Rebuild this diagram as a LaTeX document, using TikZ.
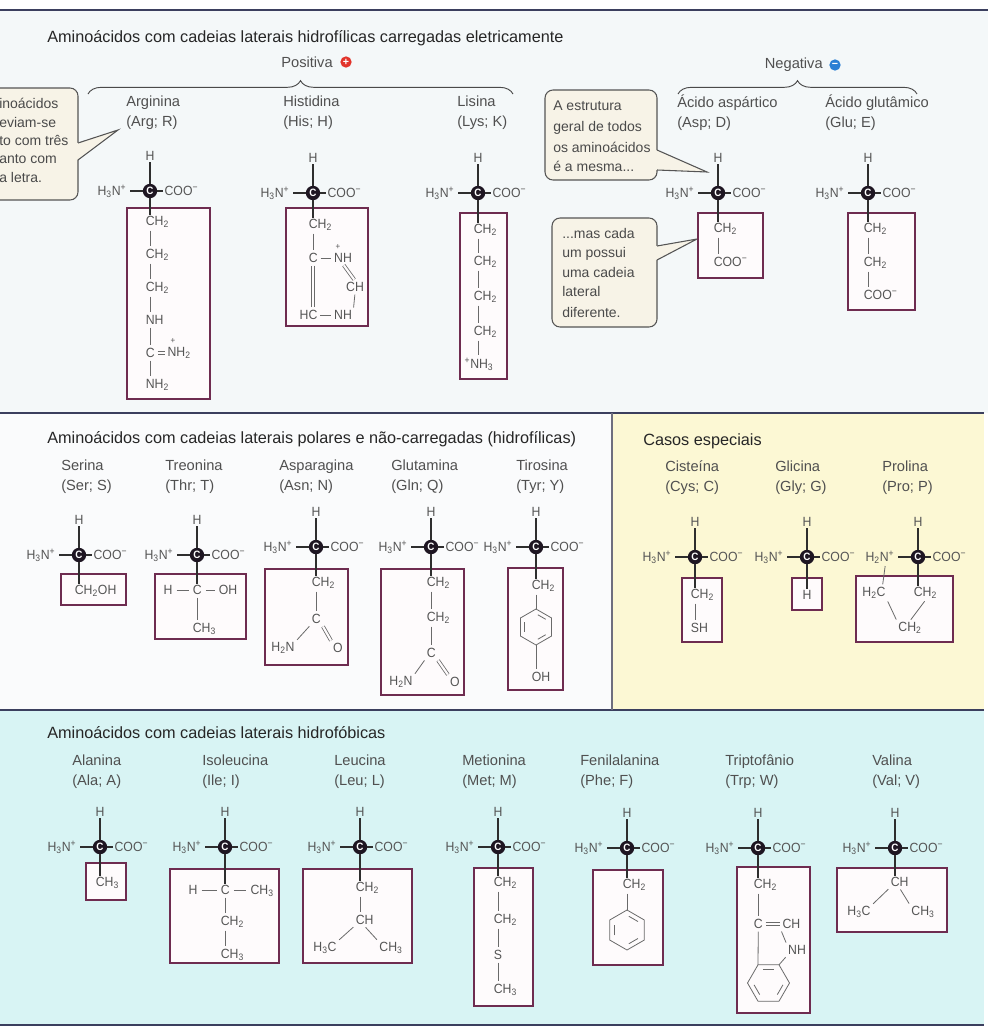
\documentclass[tikz,border=0pt]{standalone}
\usepackage{fontspec}
\setmainfont{Liberation Sans}
\newfontfamily\chemfont{Liberation Sans}[FakeStretch=0.92]
\usetikzlibrary{decorations.pathreplacing}

\definecolor{toppanel}{HTML}{F4F8F9}
\definecolor{midpanel}{HTML}{FAFBFC}
\definecolor{yelpanel}{HTML}{FCF8D4}
\definecolor{cyanpanel}{HTML}{D8F4F4}
\definecolor{rulec}{HTML}{3B3F5E}
\definecolor{vrulec}{HTML}{6E6E7E}
\definecolor{boxc}{HTML}{6E2C50}
\definecolor{boxfill}{HTML}{FEFBFC}
\definecolor{catomc}{HTML}{1E1622}
\definecolor{chemtxt}{HTML}{555555}
\definecolor{nametxt}{HTML}{505050}
\definecolor{headtxt}{HTML}{262626}
\definecolor{bondc}{HTML}{6A6A6A}
\definecolor{corec}{HTML}{2E2E2E}
\definecolor{callc}{HTML}{555555}
\definecolor{callfill}{HTML}{F7F3E7}
\definecolor{calltxt}{HTML}{4A4A4A}
\definecolor{posred}{HTML}{E2342B}
\definecolor{negblue}{HTML}{2B7FD4}
\definecolor{bracec}{HTML}{4A4A4A}

\newcommand{\lsb}[1]{\textsubscript{#1}}
\newcommand{\lsp}[1]{\textsuperscript{#1}}
\newcommand{\hthreen}{H\lsb{3}N\lsp{+}}
\newcommand{\coo}{COO\lsp{−}}

\tikzset{
  catom/.style={circle, fill=catomc, text=white, inner sep=0pt, minimum size=10.8pt, font=\chemfont\bfseries\fontsize{8}{8}\selectfont},
  chem/.style={inner sep=1pt, text=chemtxt, font=\chemfont\fontsize{10}{11}\selectfont},
  aname/.style={inner sep=0pt, text=nametxt, align=left, font=\fontsize{11}{15}\selectfont},
  head/.style={inner sep=0pt, text=headtxt, font=\fontsize{12.2}{14}\selectfont},
  callt/.style={inner sep=0pt, text=calltxt, font=\fontsize{10.5}{14}\selectfont},
  bond/.style={draw=bondc, line width=0.6pt, shorten <=1pt, shorten >=1pt},
  rbond/.style={draw=bondc, line width=0.6pt},
  ringc/.style={draw=bondc, line width=0.6pt, line join=round},
  cbond/.style={draw=corec, line width=1.1pt},
  sbox/.style={draw=boxc, line width=1.2pt, fill=boxfill},
  callout/.style={draw=callc, line width=0.8pt, fill=callfill},
  rulel/.style={draw=rulec, line width=1.1pt},
  vdiv/.style={draw=vrulec, line width=1.1pt},
  bracel/.style={decorate, decoration={brace, amplitude=10pt}, draw=bracec, line width=0.7pt},
  signc/.style={circle, inner sep=0pt, minimum size=8.5pt, text=white, font=\bfseries\fontsize{8}{8}\selectfont},
  dbl/.style={double=boxfill, double distance=1.6pt}
}

% core of an amino acid: id, axis x, y of alpha carbon, left label
\newcommand{\amino}[4]{%
  \node[catom] (#1C) at (#2,#3) {C};
  \node[chem] (#1H) at (#2,#3-35) {H};
  \node[chem, anchor=east] (#1L) at (#2-22,#3) {#4};
  \node[chem, anchor=west] (#1R) at (#2+13,#3) {\coo};
  \draw[cbond] (#1H) -- (#1C);
  \draw[cbond, shorten <=1.5pt] (#1L) -- (#1C);
  \draw[cbond] (#1C) -- (#1R);
}
% group whose first letter sits on the axis
\newcommand{\grp}[4]{\node[chem, anchor=west] (#1) at (#2-5.76,#3) {#4};}
% vertical bond from a group to the next one along the axis
\newcommand{\vb}[2]{\draw[bond] ([xshift=4.32pt]#1.south west) -- ([xshift=4.32pt]#1.south west |- #2.north);}
% hexagon: centre x, centre y, radius, start angle
\newcommand{\hexa}[4]{%
  \begin{scope}[shift={(#1,#2)}]
    \draw[ringc] (#4:#3) -- ({#4+60}:#3) -- ({#4+120}:#3) -- ({#4+180}:#3) -- ({#4+240}:#3) -- ({#4+300}:#3) -- cycle;
  \end{scope}}
% inner line of a double bond in a ring: centre x, centre y, inner radius, start angle
\newcommand{\hexd}[4]{%
  \begin{scope}[shift={(#1,#2)}]
    \draw[ringc, shorten <=1.6pt, shorten >=1.6pt] (#4:#3) -- ({#4+60}:#3);
  \end{scope}}

\begin{document}
\begin{tikzpicture}[x=0.75pt,y=-0.75pt]
\useasboundingbox (0,0) rectangle (988,1035);
\begin{scope}
\clip (0,0) rectangle (988,1035);

% ---------- panels ----------
\fill[toppanel] (0,10) rectangle (988,413);
\fill[midpanel] (0,413) rectangle (612,710);
\fill[yelpanel] (612,413) rectangle (984,710);
\fill[cyanpanel] (0,710) rectangle (984,1025);
\draw[rulel] (0,10) -- (988,10);
\draw[rulel] (0,413) -- (984,413);
\draw[rulel] (0,710) -- (984,710);
\draw[rulel] (0,1025) -- (984,1025);
\draw[vdiv] (612,413) -- (612,710);

% ---------- top section ----------
\node[head, anchor=base west] (h1) at (47,42) {Aminoácidos com cadeias laterais hidrofílicas carregadas eletricamente};
\node[aname, anchor=east] (posl) at (333,62) {Positiva};
\node[signc, fill=posred] (posi) at (346,62) {+};
\node[aname, anchor=east] (negl) at (823,65) {Negativa};
\node[signc, fill=negblue] (negi) at (835,65) {−};
\draw[bracel] (88,94) -- (513,94);
\draw[bracel] (678,94) -- (917,94);

% callout at the left edge
\draw[callout, rounded corners=6pt] (-20,88) rectangle (78,200);
\fill[callfill] (77,143) -- (118,130) -- (77,160) -- cycle;
\draw[draw=callc, line width=0.8pt] (78,143) -- (118,130) -- (78,160);
\node[callt, anchor=base west] (ca1) at (-1,108) {inoácidos};
\node[callt, anchor=base west] (ca2) at (-1,127) {eviam-se};
\node[callt, anchor=base west] (ca3) at (-1,145) {to com três};
\node[callt, anchor=base west] (ca4) at (-1,163) {anto com};
\node[callt, anchor=base west] (ca5) at (-1,182) {a letra.};

% callout "A estrutura..."
\draw[callout, rounded corners=6pt] (545,90) rectangle (657,180);
\fill[callfill] (656,150) -- (707,172) -- (656,170) -- cycle;
\draw[draw=callc, line width=0.8pt] (657,150) -- (707,172) -- (657,170);
\node[callt, anchor=base west] (cb1) at (553,110) {A estrutura};
\node[callt, anchor=base west] (cb2) at (553,131) {geral de todos};
\node[callt, anchor=base west] (cb3) at (553,152) {os aminoácidos};
\node[callt, anchor=base west] (cb4) at (553,171) {é a mesma...};

% callout "...mas cada"
\draw[callout, rounded corners=6pt] (552,218) rectangle (657,327);
\fill[callfill] (656,246) -- (697,239) -- (656,260) -- cycle;
\draw[draw=callc, line width=0.8pt] (657,246) -- (697,239) -- (657,260);
\node[callt, anchor=base west] (cc1) at (562,238) {...mas cada};
\node[callt, anchor=base west] (cc2) at (562,257) {um possui};
\node[callt, anchor=base west] (cc3) at (562,277) {uma cadeia};
\node[callt, anchor=base west] (cc4) at (562,296) {lateral};
\node[callt, anchor=base west] (cc5) at (562,317) {diferente.};

% Arginina
\node[aname, anchor=west] (argname) at (126,113) {Arginina\\(Arg; R)};
\draw[sbox] (127,208) rectangle (210,399);
\amino{arg}{150}{191}{\hthreen}
\grp{arg1}{150}{222}{CH\lsb{2}}
\grp{arg2}{150}{255}{CH\lsb{2}}
\grp{arg3}{150}{288}{CH\lsb{2}}
\grp{arg4}{150}{320}{NH}
\grp{arg5}{150}{353}{C}
\node[chem, anchor=west] (arg6) at (166,353) {NH\lsb{2}};
\node[chem, inner sep=0pt, font=\chemfont\fontsize{6.5}{6.5}\selectfont] (argp) at (173,341) {+};
\grp{arg7}{150}{385}{NH\lsb{2}}
\draw[cbond] (argC) -- (argC |- arg1.north);
\vb{arg1}{arg2}
\vb{arg2}{arg3}
\vb{arg3}{arg4}
\vb{arg4}{arg5}
\vb{arg5}{arg7}
\draw[bond, dbl] (arg5.east) -- (arg5.east -| arg6.west);

% Histidina
\node[aname, anchor=west] (hisname) at (283,113) {Histidina\\(His; H)};
\draw[sbox] (286,208) rectangle (368,326);
\amino{his}{313}{193}{\hthreen}
\grp{his1}{313}{225}{CH\lsb{2}}
\grp{his2}{313}{258}{C}
\node[chem] (his3) at (343,258) {NH};
\node[chem, inner sep=0pt, font=\chemfont\fontsize{6.5}{6.5}\selectfont] (hisp) at (338,247) {+};
\node[chem] (his4) at (355,287) {CH};
\node[chem, anchor=east] (his5) at (319,315) {HC};
\node[chem] (his6) at (343,315) {NH};
\draw[cbond] (hisC) -- (hisC |- his1.north);
\vb{his1}{his2}
\draw[bond] (his2) -- (his3);
\draw[bond, dbl] (his2.south) -- (his2.south |- his5.north);
\draw[bond, dbl] (his3.south) -- (his4.north);
\draw[bond] (his4.south) -- (his6.north east);
\draw[bond] (his5) -- (his6);

% Lisina
\node[aname, anchor=west] (lysname) at (457,113) {Lisina\\(Lys; K)};
\draw[sbox] (460,213) rectangle (507,379);
\amino{lys}{478}{193}{\hthreen}
\grp{lys1}{478}{230}{CH\lsb{2}}
\grp{lys2}{478}{262}{CH\lsb{2}}
\grp{lys3}{478}{297}{CH\lsb{2}}
\grp{lys4}{478}{332}{CH\lsb{2}}
\node[chem] (lys5) at (479,364) {\lsp{+}NH\lsb{3}};
\draw[cbond] (lysC) -- (lysC |- lys1.north);
\vb{lys1}{lys2}
\vb{lys2}{lys3}
\vb{lys3}{lys4}
\vb{lys4}{lys5}

% Acido aspartico
\node[aname, anchor=west] (aspname) at (677,113) {Ácido aspártico\\(Asp; D)};
\draw[sbox] (698,213) rectangle (763,278);
\amino{asp}{718}{193}{\hthreen}
\grp{asp1}{718}{229}{CH\lsb{2}}
\grp{asp2}{718}{262}{\coo}
\draw[cbond] (aspC) -- (aspC |- asp1.north);
\vb{asp1}{asp2}

% Acido glutamico
\node[aname, anchor=west] (gluname) at (825,113) {Ácido glutâmico\\(Glu; E)};
\draw[sbox] (848,213) rectangle (915,310);
\amino{glu}{868}{193}{\hthreen}
\grp{glu1}{868}{229}{CH\lsb{2}}
\grp{glu2}{868}{263}{CH\lsb{2}}
\grp{glu3}{868}{295}{\coo}
\draw[cbond] (gluC) -- (gluC |- glu1.north);
\vb{glu1}{glu2}
\vb{glu2}{glu3}

% ---------- middle section ----------
\node[head, anchor=base west] (h2) at (47,443) {Aminoácidos com cadeias laterais polares e não-carregadas (hidrofílicas)};

% Serina
\node[aname, anchor=west] (sername) at (61,477) {Serina\\(Ser; S)};
\draw[sbox] (61,574) rectangle (126,605);
\amino{ser}{79}{555}{\hthreen}
\grp{ser1}{79}{591}{CH\lsb{2}OH}
\draw[cbond] (serC) -- (serC |- ser1.north);

% Treonina
\node[aname, anchor=west] (thrname) at (165,477) {Treonina\\(Thr; T)};
\draw[sbox] (155,574) rectangle (246,639);
\amino{thr}{197}{555}{\hthreen}
\node[chem] (thr1) at (168,590) {H};
\grp{thr2}{197}{590}{C}
\node[chem] (thr3) at (228,590) {OH};
\grp{thr4}{197}{629}{CH\lsb{3}}
\draw[cbond] (thrC) -- (thrC |- thr2.north);
\draw[bond, shorten <=2pt, shorten >=2pt] (thr1) -- (thr2);
\draw[bond, shorten <=2pt, shorten >=2pt] (thr2) -- (thr3);
\vb{thr2}{thr4}

% Asparagina
\node[aname, anchor=west] (asnname) at (279,477) {Asparagina\\(Asn; N)};
\draw[sbox] (265,569) rectangle (348,665);
\amino{asn}{316}{547}{\hthreen}
\grp{asn1}{316}{583}{CH\lsb{2}}
\grp{asn2}{316}{619}{C}
\node[chem] (asn3) at (283,648) {H\lsb{2}N};
\node[chem] (asn4) at (338,648) {O};
\draw[cbond] (asnC) -- (asnC |- asn1.north);
\vb{asn1}{asn2}
\draw[bond] (asn2.south west) -- (asn3.north east);
\draw[bond, dbl] (asn2.south east) -- (asn4.north west);

% Glutamina
\node[aname, anchor=west] (glnname) at (391,477) {Glutamina\\(Gln; Q)};
\draw[sbox] (381,569) rectangle (464,695);
\amino{gln}{431}{547}{\hthreen}
\grp{gln1}{431}{583}{CH\lsb{2}}
\grp{gln2}{431}{618}{CH\lsb{2}}
\grp{gln3}{431}{653}{C}
\node[chem] (gln4) at (401,682) {H\lsb{2}N};
\node[chem] (gln5) at (455,682) {O};
\draw[cbond] (glnC) -- (glnC |- gln1.north);
\vb{gln1}{gln2}
\vb{gln2}{gln3}
\draw[bond] (gln3.south west) -- (gln4.north east);
\draw[bond, dbl] (gln3.south east) -- (gln5.north west);

% Tirosina
\node[aname, anchor=west] (tyrname) at (516,477) {Tirosina\\(Tyr; Y)};
\draw[sbox] (508,568) rectangle (563,690);
\amino{tyr}{536}{547}{\hthreen}
\grp{tyr1}{536}{586}{CH\lsb{2}}
\hexa{536}{627}{18}{30}
\hexd{536}{627}{13.3}{270}
\hexd{536}{627}{13.3}{30}
\hexd{536}{627}{13.3}{150}
\coordinate (tyrt) at (536,609);
\coordinate (tyrb) at (536,645);
\grp{tyr2}{536}{677}{OH}
\draw[cbond] (tyrC) -- (tyrC |- tyr1.north);
\draw[rbond, shorten <=1pt] ([xshift=4.32pt]tyr1.south west) -- (tyrt);
\draw[rbond, shorten >=1pt] (tyrb) -- ([xshift=4.32pt]tyr2.north west);

% ---------- casos especiais ----------
\node[head, anchor=base west] (h3) at (643,445) {Casos especiais};

% Cisteina
\node[aname, anchor=west] (cysname) at (665,478) {Cisteína\\(Cys; C)};
\draw[sbox] (682,578) rectangle (722,642);
\amino{cys}{695}{557}{\hthreen}
\grp{cys1}{695}{595}{CH\lsb{2}}
\grp{cys2}{695}{628}{SH}
\draw[cbond] (cysC) -- (cysC |- cys1.north);
\vb{cys1}{cys2}

% Glicina
\node[aname, anchor=west] (glyname) at (775,478) {Glicina\\(Gly; G)};
\draw[sbox] (792,578) rectangle (822,610);
\amino{gly}{807}{557}{\hthreen}
\node[chem] (gly1) at (807,595) {H};
\draw[cbond] (glyC) -- (glyC |- gly1.north);

% Prolina
\node[aname, anchor=west] (proname) at (882,478) {Prolina\\(Pro; P)};
\draw[sbox] (856,576) rectangle (953,642);
\amino{pro}{918}{557}{H\lsb{2}N\lsp{+}}
\node[chem] (pro1) at (874,593) {H\lsb{2}C};
\grp{pro2}{918}{593}{CH\lsb{2}}
\node[chem] (pro3) at (910,628) {CH\lsb{2}};
\draw[cbond] (proC) -- (proC |- pro2.north);
\draw[bond] ([xshift=-8pt]proL.south east) -- ([xshift=-3.5pt]pro1.north east);
\draw[bond] (pro1.south east) -- (pro3.north west);
\draw[bond] (pro2.south) -- (pro3.north);

% ---------- bottom section ----------
\node[head, anchor=base west] (h4) at (47,738) {Aminoácidos com cadeias laterais hidrofóbicas};

% Alanina
\node[aname, anchor=west] (alaname) at (72,772) {Alanina\\(Ala; A)};
\draw[sbox] (86,863) rectangle (126,900);
\amino{ala}{100}{847}{\hthreen}
\grp{ala1}{100}{883}{CH\lsb{3}}
\draw[cbond] (alaC) -- (alaC |- ala1.north);

% Isoleucina
\node[aname, anchor=west] (ilename) at (202,772) {Isoleucina\\(Ile; I)};
\draw[sbox] (170,869) rectangle (279,963);
\amino{ile}{225}{847}{\hthreen}
\node[chem] (ile1) at (193,890) {H};
\grp{ile2}{225}{890}{C}
\node[chem, anchor=west] (ile3) at (249,891) {CH\lsb{3}};
\grp{ile4}{225}{922}{CH\lsb{2}}
\grp{ile5}{225}{955}{CH\lsb{3}}
\draw[cbond] (ileC) -- (ileC |- ile2.north);
\draw[bond, shorten <=2pt, shorten >=2pt] (ile1) -- (ile2);
\draw[bond, shorten <=2pt, shorten >=2pt] (ile2.east) -- (ile2.east -| ile3.west);
\vb{ile2}{ile4}
\vb{ile4}{ile5}

% Leucina
\node[aname, anchor=west] (leuname) at (334,772) {Leucina\\(Leu; L)};
\draw[sbox] (303,869) rectangle (412,963);
\amino{leu}{360}{847}{\hthreen}
\grp{leu1}{360}{888}{CH\lsb{2}}
\grp{leu2}{360}{920}{CH}
\node[chem] (leu3) at (325,948) {H\lsb{3}C};
\node[chem] (leu4) at (391,948) {CH\lsb{3}};
\draw[cbond] (leuC) -- (leuC |- leu1.north);
\vb{leu1}{leu2}
\draw[bond] (leu2.south west) -- (leu3.north east);
\draw[bond] (leu2.south) -- (leu4.north west);

% Metionina
\node[aname, anchor=west] (metname) at (462,772) {Metionina\\(Met; M)};
\draw[sbox] (474,868) rectangle (533,1006);
\amino{met}{498}{847}{\hthreen}
\grp{met1}{498}{883}{CH\lsb{2}}
\grp{met2}{498}{920}{CH\lsb{2}}
\grp{met3}{498}{955}{S}
\grp{met4}{498}{990}{CH\lsb{3}}
\draw[cbond] (metC) -- (metC |- met1.north);
\vb{met1}{met2}
\vb{met2}{met3}
\vb{met3}{met4}

% Fenilalanina
\node[aname, anchor=west] (phename) at (580,772) {Fenilalanina\\(Phe; F)};
\draw[sbox] (593,870) rectangle (663,965);
\amino{phe}{627}{848}{\hthreen}
\grp{phe1}{627}{885}{CH\lsb{2}}
\hexa{627}{930}{20}{30}
\hexd{627}{930}{14.8}{270}
\hexd{627}{930}{14.8}{30}
\hexd{627}{930}{14.8}{150}
\coordinate (phet) at (627,910);
\draw[cbond] (pheC) -- (pheC |- phe1.north);
\draw[rbond, shorten <=1pt] ([xshift=4.32pt]phe1.south west) -- (phet);

% Triptofanio
\node[aname, anchor=west] (trpname) at (725,772) {Triptofânio\\(Trp; W)};
\draw[sbox] (737,867) rectangle (810,1013);
\amino{trp}{758}{848}{\hthreen}
\grp{trp1}{758}{885}{CH\lsb{2}}
\grp{trp2}{758}{924}{C}
\node[chem, anchor=west] (trp3) at (781,924) {CH};
\node[chem] (trp4) at (797,950) {NH};
\hexa{768.5}{983}{21}{0}
\hexd{768.5}{983}{15.5}{240}
\hexd{768.5}{983}{15.5}{0}
\hexd{768.5}{983}{15.5}{120}
\coordinate (trpa) at (758,964.8);
\coordinate (trpb) at (779,964.8);
\draw[cbond] (trpC) -- (trpC |- trp1.north);
\vb{trp1}{trp2}
\draw[bond, dbl] (trp2.east) -- (trp2.east -| trp3.west);
\draw[bond] (trp3.south west) -- (trp4.north west);
\draw[rbond, shorten <=1pt] (trp2.south) -- (trpa);
\draw[rbond, shorten <=1pt] (trp4.south west) -- (trpb);

% Valina
\node[aname, anchor=west] (valname) at (872,772) {Valina\\(Val; V)};
\draw[sbox] (837,868) rectangle (947,932);
\amino{val}{895}{848}{\hthreen}
\grp{val1}{895}{882}{CH}
\node[chem] (val2) at (859,912) {H\lsb{3}C};
\node[chem] (val3) at (923,912) {CH\lsb{3}};
\draw[cbond] (valC) -- (valC |- val1.north);
\draw[bond] (val1.south west) -- (val2.north east);
\draw[bond] (val1.south) -- (val3.north west);

\end{scope}
\end{tikzpicture}
\end{document}
